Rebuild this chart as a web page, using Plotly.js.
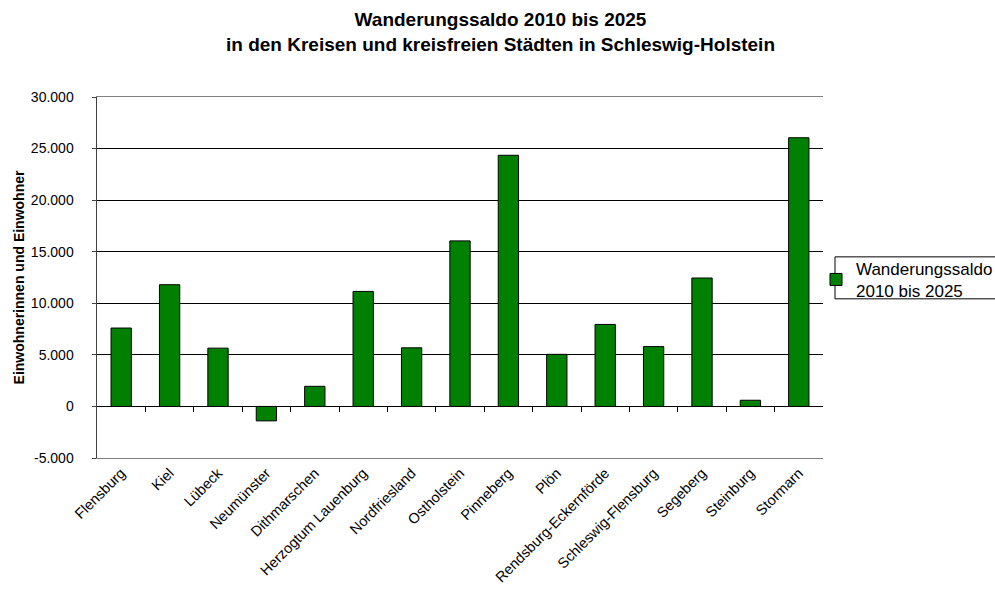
<!DOCTYPE html>
<html>
<head>
<meta charset="utf-8">
<script src="https://cdn.plot.ly/plotly-3.0.1.min.js"></script>
<style>html,body{margin:0;padding:0;background:#fff;overflow:hidden}#chart{width:995px;height:599px}</style>
</head>
<body>
<div id="chart"></div>
<script>
const categories = ["Flensburg","Kiel","Lübeck","Neumünster","Dithmarschen","Herzogtum Lauenburg","Nordfriesland","Ostholstein","Pinneberg","Plön","Rendsburg-Eckernförde","Schleswig-Flensburg","Segeberg","Steinburg","Stormarn"];
const saldo = [7600, 11800, 5650, -1400, 1950, 11150, 5680, 16050, 24350, 5050, 7950, 5800, 12450, 600, 26050];
const seriesName = "Wanderungssaldo<br>2010 bis 2025";
const titleText = "<b>Wanderungssaldo 2010 bis 2025<br>in den Kreisen und kreisfreien Städten in Schleswig-Holstein</b>";
const yTitle = "<b>Einwohnerinnen und Einwohner</b>";
const yTickVals = [-5000, 0, 5000, 10000, 15000, 20000, 25000, 30000];
const yTickText = ["-5.000", "0", "5.000", "10.000", "15.000", "20.000", "25.000", "30.000"];
const boundaries = categories.map((c, i) => i + 0.5).slice(0, -1);

const FONT = "Arial, 'Liberation Sans', sans-serif";

const data = [
  {
    type: "bar",
    x: categories,
    y: saldo,
    name: seriesName,
    marker: {color: "#008000", line: {color: "#000000", width: 1}},
    hoverinfo: "x+y"
  },
  {
    type: "scatter",
    x: [0, categories.length - 1],
    y: [null, null],
    xaxis: "x2",
    yaxis: "y",
    showlegend: false,
    hoverinfo: "skip"
  }
];

const layout = {
  width: 995,
  height: 599,
  paper_bgcolor: "#ffffff",
  plot_bgcolor: "#ffffff",
  font: {family: FONT, color: "#000000", size: 12},
  margin: {l: 97, r: 172, t: 97, b: 141, pad: 0, autoexpand: false},
  bargap: 0.58,
  xaxis: {
    type: "category",
    range: [-0.5, categories.length - 0.5],
    tickangle: -45,
    ticks: "",
    showgrid: false,
    showline: true,
    linecolor: "#808080",
    linewidth: 1,
    mirror: true,
    tickfont: {size: 14.5, family: FONT},
    zeroline: false,
    fixedrange: true
  },
  xaxis2: {
    overlaying: "x",
    anchor: "free",
    position: 1 / 7,
    range: [-0.5, categories.length - 0.5],
    type: "linear",
    tickmode: "array",
    tickvals: boundaries,
    ticks: "outside",
    ticklen: 5,
    tickcolor: "#000000",
    showticklabels: false,
    showgrid: false,
    showline: false,
    zeroline: false,
    fixedrange: true
  },
  yaxis: {
    range: [-5000, 30000],
    tickmode: "array",
    tickvals: yTickVals,
    ticktext: yTickText,
    ticks: "outside",
    ticklen: 4,
    tickcolor: "#404040",
    ticklabelstandoff: 15,
    showgrid: true,
    gridcolor: "#000000",
    gridwidth: 1,
    showline: true,
    linecolor: "#404040",
    linewidth: 1.5,
    zeroline: true,
    zerolinecolor: "#000000",
    zerolinewidth: 1,
    tickfont: {size: 14, family: FONT},
    title: {
      text: yTitle,
      font: {size: 14, family: FONT},
      standoff: 3
    },
    fixedrange: true
  },
  annotations: [
    {
      text: titleText,
      xref: "paper", yref: "paper",
      x: (500 - 97) / 726, y: (458.3 - 32) / 361.3,
      xanchor: "center", yanchor: "middle",
      showarrow: false,
      font: {size: 19, family: FONT, color: "#000000"}
    }
  ],
  shapes: [
    {
      type: "rect",
      xref: "paper", yref: "paper",
      x0: (835 - 97) / 726, x1: 1.25,
      y0: (458.3 - 299) / 361.3, y1: (458.3 - 257) / 361.3,
      line: {color: "#000000", width: 1},
      fillcolor: "rgba(0,0,0,0)"
    }
  ],
  showlegend: true,
  legend: {
    x: (816 - 97) / 726, xanchor: "left",
    y: (458.3 - 280) / 361.3, yanchor: "middle",
    bgcolor: "rgba(0,0,0,0)",
    borderwidth: 0,
    font: {size: 17, family: FONT},
    itemwidth: 30
  }
};

Plotly.newPlot("chart", data, layout, {displayModeBar: false, staticPlot: true});
</script>
</body>
</html>
